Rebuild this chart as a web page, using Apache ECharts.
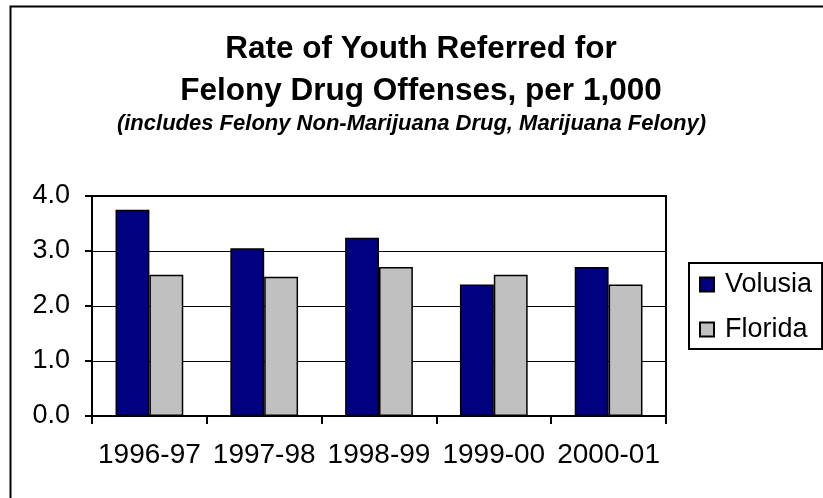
<!DOCTYPE html>
<html>
<head>
<meta charset="utf-8">
<script src="https://cdn.jsdelivr.net/npm/echarts@6/dist/echarts.min.js"></script>
<style>
html,body{margin:0;padding:0;background:#fff;}
#chart{width:823px;height:498px;}
</style>
</head>
<body>
<div id="chart"></div>
<script>
var titleText = 'Rate of Youth Referred for\nFelony Drug Offenses, per 1,000';
var subtitleText = '(includes Felony Non-Marijuana Drug, Marijuana Felony)';
var categories = ['1996-97', '1997-98', '1998-99', '1999-00', '2000-01'];
var seriesNames = ['Volusia', 'Florida'];
var volusia = [3.75, 3.05, 3.24, 2.39, 2.71];
var florida = [2.57, 2.53, 2.71, 2.57, 2.39];
var yTicks = [0, 1, 2, 3, 4];

var FONT = '"Liberation Sans", Arial, sans-serif';
var chart = echarts.init(document.getElementById('chart'), null, {renderer: 'canvas'});
chart.setOption({
  backgroundColor: '#ffffff',
  animation: false,
  graphic: [{
    type: 'rect', left: 8, top: 4, z: 100, silent: true,
    shape: {x: 0, y: 0, width: 900, height: 600},
    style: {fill: 'none', stroke: '#000', lineWidth: 2}
  }],
  title: [{
    text: titleText, left: 416, textAlign: 'center', top: 23,
    textStyle: {fontFamily: FONT, fontSize: 31.5, fontWeight: 'bold', color: '#000', lineHeight: 42}
  }, {
    text: subtitleText, left: 'center', top: 107,
    textStyle: {fontFamily: FONT, fontSize: 22, fontWeight: 'bold', fontStyle: 'italic', color: '#000', lineHeight: 24}
  }],
  legend: {
    orient: 'vertical', left: 689, top: 263,
    padding: [8, 10, 6, 10],
    borderColor: '#000', borderWidth: 2,
    itemWidth: 14, itemHeight: 14, itemGap: 18,
    icon: 'rect',
    textStyle: {fontFamily: FONT, fontSize: 27, color: '#000', padding: [0, 0, 0, 6]},
    data: seriesNames
  },
  grid: {left: 92, right: 157, top: 196, bottom: 82, show: true, borderColor: '#000', borderWidth: 2, backgroundColor: 'transparent'},
  xAxis: {
    type: 'category', data: categories,
    axisLine: {lineStyle: {color: '#000', width: 2}},
    axisTick: {show: true, length: 8, lineStyle: {color: '#000', width: 2}},
    axisLabel: {fontFamily: FONT, fontSize: 28, color: '#000', margin: 25, interval: 0}
  },
  yAxis: {
    type: 'value', min: yTicks[0], max: yTicks[yTicks.length - 1], interval: 1,
    axisLine: {show: true, lineStyle: {color: '#000', width: 2}},
    axisTick: {show: true, length: 7, lineStyle: {color: '#000', width: 2}},
    axisLabel: {fontFamily: FONT, fontSize: 27, color: '#000', margin: 22, formatter: function (v) { return v.toFixed(1); }},
    splitLine: {show: true, lineStyle: {color: '#000', width: 1}}
  },
  series: [{
    name: seriesNames[0], type: 'bar', data: volusia,
    barGap: '0%', barCategoryGap: '41%',
    itemStyle: {color: '#000080', borderColor: '#000', borderWidth: 1.5}
  }, {
    name: seriesNames[1], type: 'bar', data: florida,
    barGap: '0%', barCategoryGap: '41%',
    itemStyle: {color: '#C0C0C0', borderColor: '#000', borderWidth: 1.5}
  }]
});
</script>
</body>
</html>
